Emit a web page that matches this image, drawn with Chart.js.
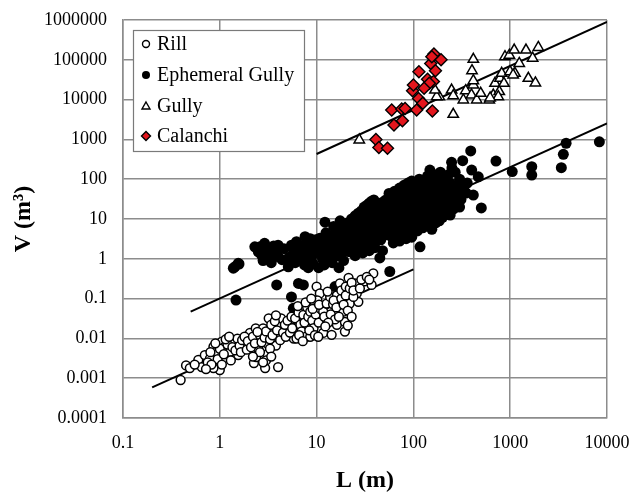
<!DOCTYPE html>
<html>
<head>
<meta charset="utf-8">
<script src="https://cdn.jsdelivr.net/npm/chart.js@4/dist/chart.umd.min.js"></script>
<style>
html,body{margin:0;padding:0;background:#fff;}
#wrap{width:634px;height:495px;position:relative;}
</style>
</head>
<body>
<div id="wrap"><canvas id="c" width="634" height="495"></canvas></div>
<script>
// ---- data (L in m, V in m^3) ----
const rill = [
[0.394,0.0009],[0.448,0.0021],[0.49,0.0018],[0.6,0.0029],[0.65,0.0019],[0.70,0.0038],[0.79,0.0031],[0.86,0.0062],[0.92,0.0046],[1.0,0.0016],
[0.86,0.0018],[1.05,0.0083],[1.13,0.0062],[1.27,0.0046],[1.19,0.0099],[1.43,0.0083],[1.55,0.0038],[1.52,0.0099],[1.73,0.0056],[1.88,0.0074],
[2.05,0.0137],[2.35,0.0178],[2.4,0.0093],[2.5,0.0054],[2.25,0.0024],[2.38,0.0034],[2.94,0.0018],[3.1,0.004],[3.0,0.0028],[3.1,0.0074],
[3.2,0.0137],[3.2,0.032],[4.0,0.0019],[2.8,0.0178],[3.6,0.0178],[3.8,0.0066],[4.0,0.0123],[4.3,0.032],[5.1,0.0195],[5.8,0.0099],
[0.75,0.0025],[0.8,0.0045],[0.95,0.003],[1.0,0.0055],[1.1,0.004],[1.2,0.007],[1.3,0.0028],[1.35,0.006],[1.45,0.005],[1.6,0.0065],
[1.65,0.0045],[1.7,0.009],[1.8,0.011],[1.9,0.0052],[1.95,0.0085],[0.9,0.0075],[1.15,0.0095],[1.25,0.011],[0.82,0.0022],[1.05,0.0022],
[0.72,0.0017],[0.55,0.0022],
[2.1,0.006],[2.2,0.011],[2.3,0.0075],[2.6,0.012],[2.7,0.008],[2.9,0.0105],[3.0,0.015],[3.3,0.0095],[3.4,0.022],[3.5,0.012],
[3.7,0.027],[3.9,0.016],[4.2,0.009],[4.5,0.014],[4.7,0.022],[4.8,0.011],[5.0,0.028],[5.3,0.014],[5.5,0.035],[5.6,0.018],
[2.6,0.0045],[3.3,0.0055],[2.2,0.0035],[2.8,0.0025],[3.4,0.0035],[2.45,0.0145],[3.8,0.038],
[6.0,0.032],[6.2,0.0099],[6.5,0.045],[6.8,0.022],[7.0,0.015],[7.3,0.039],[7.5,0.025],[7.8,0.011],[8.0,0.06],[8.2,0.035],
[8.6,0.011],[8.6,0.047],[9.0,0.028],[9.3,0.018],[9.5,0.07],[9.8,0.04],[10,0.2],[10.8,0.135],[10.2,0.09],[10.5,0.025],
[11,0.055],[11.7,0.0137],[11.7,0.047],[12.0,0.035],[6.6,0.012],[7.2,0.0085],[8.4,0.016],[9.6,0.012],[10.4,0.011],[6.4,0.065],
[7.7,0.08],[8.8,0.1],[9.1,0.055],[10.6,0.07],
[12.7,0.075],[13.8,0.11],[14.3,0.0123],[14.8,0.072],[16.2,0.022],[16.2,0.12],[17.4,0.24],[18.9,0.047],[19.6,0.0148],[19.6,0.026],
[21.4,0.33],[22,0.075],[25,0.24],[26,0.135],[27,0.083],[31,0.27],[37,0.22],[38.5,0.43],[13,0.15],[14,0.04],
[15,0.09],[15.5,0.03],[16,0.06],[17,0.035],[18,0.1],[18,0.16],[19,0.07],[20,0.2],[20,0.12],[21,0.05],
[22,0.18],[23,0.25],[24,0.11],[24,0.16],[28,0.18],[29,0.3],[33,0.35],[35,0.3],[13.2,0.025],[12.3,0.02],
[21,0.021],[23,0.035]
];
const ephemeralGully = [
[1.43,0.63],[1.55,0.77],[1.47,0.092],[1.38,0.58],[1.58,0.74],
[2.3,2.0],[2.6,2.0],[2.9,2.45],[2.7,1.24],[2.5,1.5],[3.1,1.6],[3.3,1.0],[3.6,2.1],[4.0,2.2],[4.0,1.13],[4.4,0.95],[3.87,0.22],[4.6,1.8],[5.1,0.63],[3.4,0.8],[2.8,0.9],[3.8,1.5],
[5.5,2.2],[6.2,2.7],[7.6,3.6],[5.5,0.11],[5.75,0.057],[6.5,0.24],[7.3,0.22],[6.5,1.0],[7.0,1.3],[8.0,1.5],[8.5,2.0],[9.0,1.2],[9.5,2.5],[6.0,0.8],[7.5,0.7],[8.8,0.9],[5.8,1.5],[9.8,3.0],[8.2,0.6],[9.2,0.75],[6.8,1.8],[7.8,2.5],[8.6,3.2],[9.4,1.6],[5.2,1.1],[6.3,1.4],[7.2,0.95],
[10.8,3.3],[12.2,8.3],[15.5,0.2],[11,2.0],[12,1.5],[13,3.0],[14,2.5],[15,4.0],[16,3.0],[17,5.0],[18,6.0],[19,4.0],[11.5,1.0],[13.5,1.8],[14.5,0.8],[16.5,1.2],[18.5,2.2],[12.5,4.5],[15,6.5],[17.5,9],[19.5,7],[10.5,0.6],[20,3.5],
[11.2,1.3],[12.8,0.9],[13.8,1.2],[14.8,1.6],[15.8,2.0],[16.8,2.6],[17.8,3.3],[18.8,1.5],[19.8,2.8],[10.2,1.7],[11.8,2.4],[13.2,2.0],[14.2,3.6],[16.2,4.6],[18.2,4.4],[19.2,5.5],[12.0,0.7],[17.0,0.6],[19.0,0.9],
[21,3],[22,5],[23,2],[24,7],[25,4],[26,9],[27,3],[28,6],[29,11],[30,5],[31,8],[32,14],[33,4],[34,10],[35,7],[36,18.6],[37,12],[38,5],[39,9],[40,15],[41,20],[42,7],[43,11],[44,25],[45,14],[46,9],[47,18],[48,6],[49,27],[50,12],
[22,1.5],[24,2.5],[26,1.8],[28,2.2],[30,2.8],[32,3.0],[34,2.0],[36,3.5],[38,2.8],[40,4.0],[42,3.2],[44,4.5],[46,3.0],[48,4.0],[50,5.5],
[21,8],[23,10],[25,12],[27,14],[29,16],[31,20],[33,22],[35,25],[37,28],[39,30],[41,8],[43,16],[45,20],[47,24],[49,18],
[25,1.2],[30,1.4],[35,1.6],[40,1.9],[45,1.05],[48,1.6],[57,0.48],
[52,30],[54,18],[56,44],[58,25],[60,35],[62,15],[64,50],[66,28],[68,40],[70,22],[72,60],[74,33],[76,45],[78,18],[80,70],[82,38],[84,55],[86,26],[88,80],[90,42],[92,60],[94,30],[96,90],[98,48],[100,65],
[52,8],[55,12],[58,6],[61,10],[64,8],[67,14],[70,9],[73,12],[76,7],[79,15],[82,10],[85,13],[88,9],[91,16],[94,11],[97,14],[100,10],
[53,4],[57,5],[60,3.5],[65,4.5],[70,5],[75,3.8],[80,6],[85,5],[90,4.5],[95,7],[100,6],
[55,22],[60,20],[65,18],[70,26],[75,24],[80,28],[85,32],[90,20],[95,36],[100,25],
[62,2.5],[72,2.8],[84,3.2],[96,3.5],
[105,70],[110,40],[115,100],[120,55],[125,30],[130,80],[135,45],[140,120],[145,60],[148,170],[155,90],[160,50],[165,130],[170,70],[175,40],[180,100],[185,60],[190,150],[195,80],[200,45],[210,110],[220,65],[230,130],[240,80],[248,266],
[105,20],[110,28],[115,15],[120,24],[125,18],[130,32],[135,22],[140,26],[145,35],[150,20],[155,38],[160,28],[165,24],[170,42],[175,30],[180,35],[190,28],[200,32],[210,38],[220,25],[230,40],[240,30],
[105,10],[112,8],[117,2.0],[120,12],[128,9],[135,14],[142,10],[150,15],[160,12],[170,18],[180,14],[190,20],[200,16],[215,22],[230,18],[245,20],
[110,5],[125,6],[140,7],[155,5.5],[170,8],[185,9],[200,11],[220,13],[240,12.6],
[260,50],[270,30],[280,70],[290,40],[310,31],[323,292],[391,512],[400,170],[416,40],[468,115],[503,19],[300,100],[330,60],[350,45],[280,25],[260,18],[360,80],[300,20],[270,150],[250,190],
[713,286],[1050,155],[1670,206],[1670,127],[3375,195],[3540,423],[3780,800],[8340,870]
];
const gully = [
[27.6,970],[258,4270],[185,11800],[248,17400],[258,12500],[328,9800],[347,16700],[416,23300],[416,103000],[403,53200],
[398,13100],[451,9800],[496,14400],[608,9800],[669,13000],[697,25700],[771,15900],[785,34300],[817,45700],[862,25700],
[883,120000],[995,50300],[980,131000],[1100,176000],[1120,45700],[1240,81000],[1456,176000],[1705,110000],[1540,34300],[1820,26300],
[1952,205000],[753,11800],[1072,41600],[174,11800],[416,29800],[167,17400],[620,11000]
];
const calanchi = [
[163,140000],[193,100000],[151,81000],[155,120000],[114,50000],[169,53000],[140,32500],[161,28300],[146,25700],[129,19200],
[98,16700],[100,23300],[113,10700],[125,8070],[108,5500],[157,5180],[59.7,5500],[75.7,5800],[82,6000],[77,2950],
[63,2300],[41,1000],[44,630],[54,600]
];
// fitted power-law lines (end points)
const gullyFit = [[10,430],[10000,900000]];
const ephemeralFit = [[0.5,0.047],[10000,2510]];
const rillFit = [[0.2,0.00059],[100,0.545]];
// axis ticks
const xTicks = [0.1,1,10,100,1000,10000];
const xTickLabels = ['0.1','1','10','100','1000','10000'];
const yTicks = [0.0001,0.001,0.01,0.1,1,10,100,1000,10000,100000,1000000];
const yTickLabels = ['0.0001','0.001','0.01','0.1','1','10','100','1000','10000','100000','1000000'];
const legendItems = ['Rill','Ephemeral Gully','Gully','Calanchi'];

const toXY = a => a.map(p => ({x:p[0], y:p[1]}));
const RED = '#e3161d';
const GRID = '#8c8c8c';
const serif = "'Liberation Serif','Times New Roman',serif";

const legendPlugin = {
  id:'boxLegend',
  afterDatasetsDraw(chart){
    const ctx = chart.ctx;
    ctx.save();
    ctx.fillStyle = '#fff';
    ctx.fillRect(133,30,171,121);
    ctx.strokeStyle = '#7a7a7a';
    ctx.lineWidth = 1.2;
    ctx.strokeRect(133.5,30.5,171,121);
    const ys = [44,75,106,136];
    const mx = 146;
    ctx.lineWidth = 1.4;
    ctx.strokeStyle = '#000';
    ctx.beginPath(); ctx.arc(mx,ys[0],3.5,0,Math.PI*2); ctx.fillStyle='#fff'; ctx.fill(); ctx.stroke();
    ctx.beginPath(); ctx.arc(mx,ys[1],4,0,Math.PI*2); ctx.fillStyle='#000'; ctx.fill();
    ctx.beginPath(); ctx.moveTo(mx,ys[2]-4); ctx.lineTo(mx+4,ys[2]+3); ctx.lineTo(mx-4,ys[2]+3); ctx.closePath();
    ctx.fillStyle='#fff'; ctx.fill(); ctx.stroke();
    ctx.beginPath(); ctx.moveTo(mx,ys[3]-4.5); ctx.lineTo(mx+4.5,ys[3]); ctx.lineTo(mx,ys[3]+4.5); ctx.lineTo(mx-4.5,ys[3]); ctx.closePath();
    ctx.fillStyle=RED; ctx.fill(); ctx.stroke();
    ctx.fillStyle='#000';
    ctx.font = "20px " + serif;
    ctx.textAlign='left'; ctx.textBaseline='middle';
    legendItems.forEach((t,i)=>ctx.fillText(t,157,ys[i]+1));
    ctx.restore();
  }
};

new Chart(document.getElementById('c'), {
  type:'scatter',
  data:{datasets:[
    {label:'Rill', data:toXY(rill), pointStyle:'circle', pointRadius:4.4, pointBackgroundColor:'#fff', pointBorderColor:'#000', pointBorderWidth:1.5},
    {label:'Calanchi', data:toXY(calanchi), pointStyle:'rectRot', pointRadius:6, pointBackgroundColor:RED, pointBorderColor:'#000', pointBorderWidth:1.4},
    {label:'Gully', data:toXY(gully), pointStyle:'triangle', pointRadius:6, pointBackgroundColor:'#fff', pointBorderColor:'#000', pointBorderWidth:1.5},
    {label:'Ephemeral Gully', data:toXY(ephemeralGully), pointStyle:'circle', pointRadius:5.5, pointBackgroundColor:'#000', pointBorderColor:'#000', pointBorderWidth:0},
    {label:'fit1', data:toXY(gullyFit), showLine:true, pointRadius:0, borderColor:'#000', borderWidth:2},
    {label:'fit2', data:toXY(ephemeralFit), showLine:true, pointRadius:0, borderColor:'#000', borderWidth:2},
    {label:'fit3', data:toXY(rillFit), showLine:true, pointRadius:0, borderColor:'#000', borderWidth:2}
  ]},
  options:{
    responsive:false, animation:false, devicePixelRatio:1,
    layout:{padding:{left:0,right:27,top:20,bottom:0}},
    plugins:{legend:{display:false}, tooltip:{enabled:false}},
    elements:{point:{hoverRadius:0}},
    scales:{
      x:{type:'logarithmic', min:0.1, max:10000,
        afterBuildTicks(s){ s.ticks = xTicks.map(v=>({value:v})); },
        afterFit(s){ s.height = 77; s.paddingLeft = 0; s.paddingRight = 0; },
        ticks:{autoSkip:false, maxRotation:0, padding:14, color:'#000', font:{family:serif,size:18},
          callback(v){ const i = xTicks.indexOf(v); return i>=0 ? xTickLabels[i] : ''; }},
        grid:{color:GRID, lineWidth:1.5, drawTicks:false},
        border:{color:GRID, width:1.5},
        title:{display:true, text:'L (m)', color:'#000', font:{family:serif,size:24,weight:'bold'}, padding:{top:0,bottom:0}}
      },
      y:{type:'logarithmic', min:0.0001, max:1000000,
        afterBuildTicks(s){ s.ticks = yTicks.map(v=>({value:v})); },
        afterFit(s){ s.width = 123; s.paddingTop = 0; s.paddingBottom = 0; },
        ticks:{autoSkip:false, padding:16, color:'#000', font:{family:serif,size:18},
          callback(v){ const i = yTicks.findIndex(t=>Math.abs(Math.log10(t)-Math.log10(v))<1e-6); return i>=0 ? yTickLabels[i] : ''; }},
        grid:{color:GRID, lineWidth:1.5, drawTicks:false},
        border:{color:GRID, width:1.5},
        title:{display:true, text:'V (m³)', color:'#000', font:{family:serif,size:24,weight:'bold'}, padding:{top:9,bottom:0}}
      }
    }
  },
  plugins:[legendPlugin]
});
</script>
</body>
</html>
